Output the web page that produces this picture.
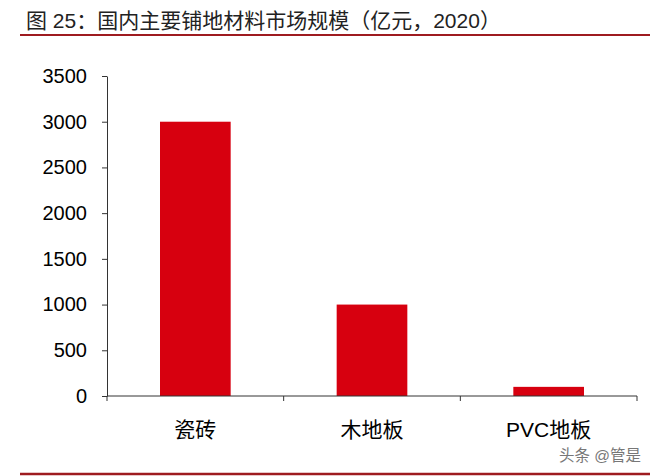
<!DOCTYPE html>
<html>
<head>
<meta charset="utf-8">
<script src="https://cdn.jsdelivr.net/npm/d3@7"></script>
<style>
	body { margin: 0; background: #fff; }
	svg { display: block; font-family: 'Liberation Sans', Arial, 'Noto Sans CJK SC', sans-serif; }
</style>
</head>
<body>
<div id="chart"></div>
<script>
const categories = ['瓷砖', '木地板', 'PVC地板']
const values = [3000, 1000, 100]
const yTicks = [0, 500, 1000, 1500, 2000, 2500, 3000, 3500]

const width = 654
const height = 476
const margin = { top: 76, left: 107, right: 17, bottom: 80 }

const svg = d3
	.select('#chart')
	.append('svg')
	.attr('width', width)
	.attr('height', height)

// title and the two rules
svg
	.append('text')
	.attr('x', 26)
	.attr('y', 28)
	.attr('font-size', 21)
	.attr('fill', '#222')
	.text('图 25：国内主要铺地材料市场规模（亿元，2020）')

svg.append('line').attr('x1', 20).attr('x2', 650).attr('y1', 35).attr('y2', 35)
	.attr('stroke', '#9e1b20').attr('stroke-width', 2)
svg.append('line').attr('x1', 20).attr('x2', 650).attr('y1', 474).attr('y2', 474)
	.attr('stroke', '#9e1b20').attr('stroke-width', 2.5)

const x = d3
	.scaleBand()
	.domain(categories)
	.range([margin.left, width - margin.right])
	.paddingInner(0.6)
	.paddingOuter(0.3)

const y = d3
	.scaleLinear()
	.domain([0, 3500])
	.range([396, margin.top])

svg
	.selectAll('rect.bar')
	.data(values)
	.enter()
	.append('rect')
	.attr('class', 'bar')
	.attr('x', (d, i) => x(categories[i]))
	.attr('width', x.bandwidth())
	.attr('y', (d) => y(d))
	.attr('height', (d) => y(0) - y(d))
	.attr('fill', '#d7000f')

// y axis
const yAxis = svg
	.append('g')
	.attr('transform', 'translate(' + margin.left + ',0)')
	.call(
		d3
			.axisLeft(y)
			.tickValues(yTicks)
			.tickFormat(d3.format('d'))
			.tickSize(5)
			.tickPadding(15)
			.tickSizeOuter(0)
	)
yAxis.select('.domain').attr('stroke', '#333')
yAxis.selectAll('.tick line').attr('stroke', '#333')
yAxis.selectAll('text').attr('font-size', 20).attr('fill', '#000')
	.attr('font-family', "'Liberation Sans', Arial, sans-serif")

// x axis, ticks on band edges
const x0 = margin.left
const x1 = width - margin.right
const xAxis = svg.append('g')
xAxis.append('line').attr('x1', x0).attr('x2', x1).attr('y1', y(0)).attr('y2', y(0))
	.attr('stroke', '#333')
const edges = [x0].concat(categories.map((c) => x(c) + x.bandwidth() / 2 + x.step() / 2))
xAxis
	.selectAll('line.tick')
	.data(edges)
	.enter()
	.append('line')
	.attr('class', 'tick')
	.attr('x1', (d) => d)
	.attr('x2', (d) => d)
	.attr('y1', y(0))
	.attr('y2', y(0) + 5)
	.attr('stroke', '#333')

xAxis
	.selectAll('text')
	.data(categories)
	.enter()
	.append('text')
	.attr('x', (d) => x(d) + x.bandwidth() / 2)
	.attr('y', 437)
	.attr('text-anchor', 'middle')
	.attr('font-size', 21)
	.attr('fill', '#000')
	.text((d) => d)

svg
	.append('text')
	.attr('x', 641)
	.attr('y', 461)
	.attr('text-anchor', 'end')
	.attr('font-size', 15.5)
	.attr('fill', '#777')
	.text('头条 @管是')
</script>
</body>
</html>
